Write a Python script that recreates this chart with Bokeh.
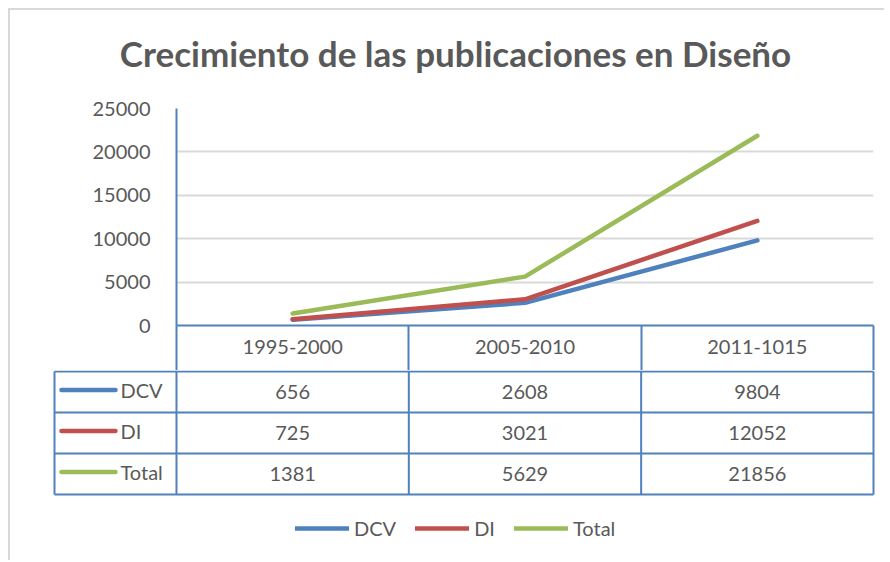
from bokeh.plotting import figure
from bokeh.models import (Range1d, FixedTicker, Legend, LegendItem, LinearAxis)
from bokeh.layouts import column
from bokeh.embed import file_html
from bokeh.resources import INLINE
from bokeh.core.properties import value

# ---------------- data ----------------
categories = ["1995-2000", "2005-2010", "2011-1015"]
series_names = ["DCV", "DI", "Total"]
dcv = [656, 2608, 9804]
di = [725, 3021, 12052]
total = [1381, 5629, 21856]
y_ticks = [0, 5000, 10000, 15000, 20000, 25000]
title_text = "Crecimiento de las publicaciones en Diseño"

# ---------------- styles ----------------
series_values = [dcv, di, total]
colors = ["#4F81BD", "#C0504D", "#9BBB59"]
FONT = "Lato"
TEXT = "#595959"
RULE = "#4F81BD"
GRID = "#D9D9D9"
FS = "20px"
W = 874

ncat = len(categories)
centers = [i + 0.5 for i in range(ncat)]
bounds = [float(i) for i in range(ncat + 1)]


def bare(fig):
    fig.outline_line_color = None
    fig.background_fill_color = "white"
    fig.border_fill_color = "white"
    return fig


# ---------------- title strip ----------------
TH = 86
tf = bare(figure(width=W, height=TH, x_range=Range1d(0, W), y_range=Range1d(TH, 0),
                 output_backend="svg", toolbar_location=None,
                 x_axis_location=None, y_axis_location=None, frame_align=False,
                 min_border=0))
tf.grid.visible = False
tf.text(x=[445], y=[42], text=[title_text], text_align="center", text_baseline="middle",
        text_font=value(FONT), text_font_size="35px", text_font_style="bold",
        text_color=TEXT)

# ---------------- chart (with header row as x axis) ----------------
p = bare(figure(width=W, height=274,
                x_range=Range1d(-0.0001, ncat + 0.0001),
                y_range=Range1d(0, 25000),
                output_backend="svg", toolbar_location=None,
                x_axis_location=None, frame_align=False,
                min_border_left=166, min_border_right=11,
                min_border_top=12, min_border_bottom=45))
p.xgrid.visible = False
p.ygrid.ticker = FixedTicker(ticks=y_ticks)
p.ygrid.grid_line_color = GRID
p.ygrid.grid_line_width = 2

ya = p.yaxis[0]
ya.ticker = FixedTicker(ticks=y_ticks)
ya.axis_line_color = RULE
ya.axis_line_width = 2
ya.major_tick_line_color = None
ya.minor_tick_line_color = None
ya.major_label_standoff = 20
ya.major_label_text_font = FONT
ya.major_label_text_font_size = FS
ya.major_label_text_color = TEXT

xa = LinearAxis(ticker=FixedTicker(ticks=centers, minor_ticks=bounds),
                major_label_overrides={c: lab for c, lab in zip(centers, categories)})
xa.axis_line_color = RULE
xa.axis_line_width = 2
xa.major_tick_line_color = None
xa.major_tick_out = 0
xa.major_tick_in = 0
xa.minor_tick_line_color = RULE
xa.minor_tick_line_width = 2
xa.minor_tick_out = 45
xa.minor_tick_in = 0
xa.major_label_standoff = -31
xa.major_label_text_font = FONT
xa.major_label_text_font_size = FS
xa.major_label_text_color = TEXT
p.add_layout(xa, "below")

for vals, col in zip(series_values, colors):
    p.line(x=centers, y=vals, line_color=col, line_width=4.5, line_cap="round")

# ---------------- data table rows + legend ----------------
COLW = 232.33
t = bare(figure(width=W, height=190,
                x_range=Range1d(-0.525 - 2 / COLW, ncat + 3 / COLW),
                y_range=Range1d(189, -1),
                output_backend="svg", toolbar_location=None,
                x_axis_location=None, y_axis_location=None, frame_align=False,
                min_border_left=42, min_border_right=8,
                min_border_top=0, min_border_bottom=0))
t.grid.visible = False

row_h = 41
row_tops = [i * row_h for i in range(len(series_names) + 1)]
left_edge = -0.525

# horizontal rules
t.segment(x0=[left_edge] * len(row_tops), x1=[ncat] * len(row_tops),
          y0=row_tops, y1=row_tops, line_color=RULE, line_width=2)
# vertical rules
vx = [left_edge] + bounds
t.segment(x0=vx, x1=vx, y0=[row_tops[0]] * len(vx), y1=[row_tops[-1]] * len(vx),
          line_color=RULE, line_width=2)

# cell values
xs, ys, txt = [], [], []
for r, vals in enumerate(series_values):
    for c, v in enumerate(vals):
        xs.append(centers[c])
        ys.append(row_tops[r] + row_h / 2)
        txt.append(str(v))
t.text(x=xs, y=ys, text=txt, text_align="center", text_baseline="middle",
       text_font=value(FONT), text_font_size=FS, text_color=TEXT)

# row keys
key_x0 = (61 - 176) / COLW
key_x1 = (115 - 176) / COLW
lab_x = (120 - 176) / COLW
key_renderers = []
for r, (name, col) in enumerate(zip(series_names, colors)):
    yc = row_tops[r] + row_h / 2 - 2
    rr = t.line(x=[key_x0, key_x1], y=[yc, yc], line_color=col, line_width=4.5,
                line_cap="round")
    key_renderers.append(rr)
t.text(x=[lab_x] * len(series_names),
       y=[row_tops[r] + row_h / 2 - 2 for r in range(len(series_names))],
       text=series_names, text_align="left", text_baseline="middle",
       text_font=value(FONT), text_font_size=FS, text_color=TEXT)

legend = Legend(items=[LegendItem(label=n, renderers=[r]) for n, r in zip(series_names, key_renderers)],
                orientation="horizontal", location=(243, 20),
                glyph_width=54, glyph_height=20, label_standoff=5, spacing=19,
                padding=0, margin=0, border_line_color=None, background_fill_alpha=0,
                label_text_font=FONT, label_text_font_size=FS, label_text_color=TEXT)
t.add_layout(legend)

layout = column(tf, p, t, spacing=0,
                styles={"margin-left": "8px", "margin-top": "8px",
                        "border-top": "2px solid #D9D9D9", "border-left": "2px solid #D9D9D9"})

with open("out.html", "w") as f:
    f.write(file_html(layout, INLINE))
